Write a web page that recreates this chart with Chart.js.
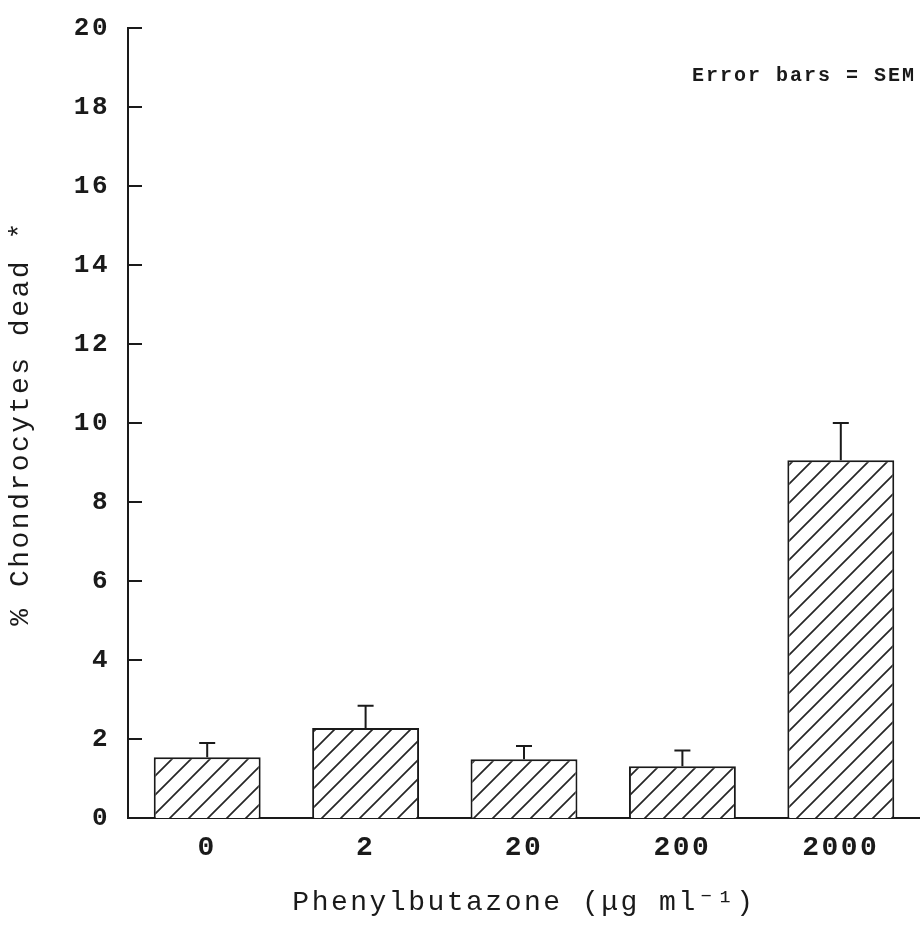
<!DOCTYPE html>
<html>
<head>
<meta charset="utf-8">
<script src="https://cdn.jsdelivr.net/npm/chart.js@4/dist/chart.umd.min.js"></script>
<style>
  html, body { margin: 0; padding: 0; background: #ffffff; }
  #wrap { width: 920px; height: 925px; }
</style>
</head>
<body>
<div id="wrap"><canvas id="c" width="920" height="925"></canvas></div>
<script>
// ---- data ----
const categories = ['0', '2', '20', '200', '2000'];
const meanDead = [1.54, 2.28, 1.49, 1.31, 9.06];
const semDead = [0.36, 0.56, 0.33, 0.40, 0.94];
const yTicks = [0, 2, 4, 6, 8, 10, 12, 14, 16, 18, 20];
const xTitle = 'Phenylbutazone (\u03BCg ml\u207B\u00B9)';
const yTitle = '% Chondrocytes dead *';
const noteText = 'Error bars = SEM';

const FONT = "'Liberation Mono', 'DejaVu Sans Mono', monospace";
const INK = '#1a1a1a';

function hatchPattern() {
  const s = 19;
  const cv = document.createElement('canvas');
  cv.width = s; cv.height = s;
  const g = cv.getContext('2d');
  g.fillStyle = '#ffffff';
  g.fillRect(0, 0, s, s);
  g.strokeStyle = '#262626';
  g.lineWidth = 1.7;
  g.beginPath();
  g.moveTo(-2, s + 2); g.lineTo(s + 2, -2);
  g.moveTo(-2, 2); g.lineTo(2, -2);
  g.moveTo(s - 2, s + 2); g.lineTo(s + 2, s - 2);
  g.stroke();
  const ctx = document.getElementById('c').getContext('2d');
  return ctx.createPattern(cv, 'repeat');
}

const spacingPlugin = {
  id: 'spacing',
  beforeLayout(chart) { chart.ctx.letterSpacing = '2.5px'; },
  beforeDraw(chart) { chart.ctx.letterSpacing = '2.5px'; }
};

const extrasPlugin = {
  id: 'extras',
  afterDatasetsDraw(chart) {
    const ctx = chart.ctx;
    const ys = chart.scales.y;
    const meta = chart.getDatasetMeta(0);
    ctx.save();
    ctx.strokeStyle = INK;
    ctx.lineWidth = 2;
    meta.data.forEach((bar, i) => {
      const yb = ys.getPixelForValue(meanDead[i]);
      const yt = ys.getPixelForValue(meanDead[i] + semDead[i]);
      ctx.beginPath();
      ctx.moveTo(bar.x, yb);
      ctx.lineTo(bar.x, yt);
      ctx.moveTo(bar.x - 8, yt);
      ctx.lineTo(bar.x + 8, yt);
      ctx.stroke();
    });
    ctx.restore();
  },
  afterDraw(chart) {
    const ctx = chart.ctx;
    const ys = chart.scales.y;
    const left = chart.chartArea.left;
    ctx.save();
    ctx.strokeStyle = INK;
    ctx.lineWidth = 2;
    yTicks.forEach(v => {
      const y = ys.getPixelForValue(v);
      ctx.beginPath();
      ctx.moveTo(left, y);
      ctx.lineTo(left + 14, y);
      ctx.stroke();
    });
    ctx.letterSpacing = '2px';
    ctx.fillStyle = INK;
    ctx.font = 'bold 20px ' + FONT;
    ctx.textAlign = 'right';
    ctx.textBaseline = 'middle';
    ctx.fillText(noteText, 916, 76);
    ctx.restore();
  }
};

new Chart(document.getElementById('c'), {
  type: 'bar',
  data: {
    labels: categories,
    datasets: [{
      data: meanDead,
      backgroundColor: hatchPattern(),
      borderColor: INK,
      borderWidth: 2,
      barPercentage: 0.675,
      categoryPercentage: 1.0
    }]
  },
  options: {
    responsive: false,
    animation: false,
    devicePixelRatio: 1,
    layout: { padding: { top: 28, left: 0, right: 0, bottom: 0 } },
    plugins: {
      legend: { display: false },
      tooltip: { enabled: false },
      title: { display: false }
    },
    scales: {
      x: {
        offset: true,
        grid: { display: false, drawTicks: false },
        border: { display: true, color: INK, width: 2 },
        ticks: {
          color: INK,
          padding: 13,
          font: { family: FONT, size: 28, weight: 'bold' }
        },
        title: {
          display: true,
          text: xTitle,
          color: INK,
          font: { family: FONT, size: 28 },
          padding: { top: 0, bottom: 6 }
        },
        afterFit(s) { s.height = 107; s.paddingLeft = 0; s.paddingRight = 0; }
      },
      y: {
        min: 0,
        max: 20,
        afterBuildTicks(s) { s.ticks = yTicks.map(v => ({ value: v })); },
        grid: { display: false, drawTicks: false },
        border: { display: true, color: INK, width: 2 },
        ticks: {
          color: INK,
          padding: 18,
          font: { family: FONT, size: 26, weight: 'bold' }
        },
        title: {
          display: true,
          text: yTitle,
          color: INK,
          font: { family: FONT, size: 28 },
          padding: { top: 4, bottom: 0 }
        },
        afterFit(s) { s.width = 128; s.paddingTop = 0; s.paddingBottom = 0; }
      }
    }
  },
  plugins: [spacingPlugin, extrasPlugin]
});
</script>
</body>
</html>
